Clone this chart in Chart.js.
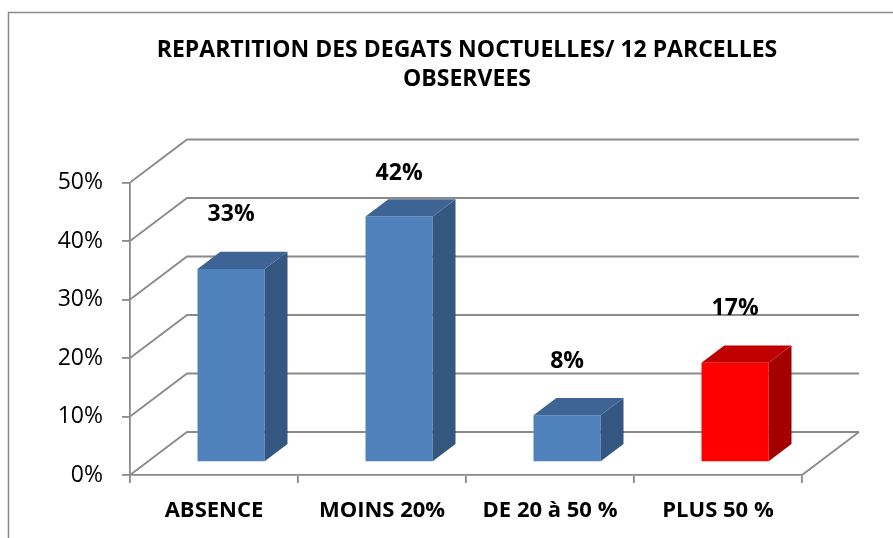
<!DOCTYPE html>
<html>
<head>
<meta charset="utf-8">
<script src="https://cdn.jsdelivr.net/npm/chart.js@4.4.1/dist/chart.umd.min.js"></script>
<style>
  body { margin: 0; background: #fff; }
  #wrap { width: 893px; height: 538px; }
</style>
</head>
<body>
<div id="wrap"><canvas id="chart"></canvas></div>
<script>
const categories = ["ABSENCE", "MOINS 20%", "DE 20 à 50 %", "PLUS 50 %"];
const values = [33, 42, 8, 17];
const yTicks = [0, 10, 20, 30, 40, 50];
const titleLines = ["REPARTITION DES DEGATS NOCTUELLES/ 12 PARCELLES", "OBSERVEES"];

const frontColors = ["#4f81bd", "#4f81bd", "#4f81bd", "#ff0000"];
const sideColors = ["#34577f", "#34577f", "#34577f", "#a50000"];
const topColors = ["#3d6494", "#3d6494", "#3d6494", "#c00000"];

const gridColor = "#8a8a8a";
const DX = 57, DY = -43; // depth of the 3d box
const FRONT = 0.3, DEPTH = 0.4; // bar position inside the depth

const depth = {
  id: "depth",
  beforeDraw(chart) {
    const ctx = chart.ctx;
    ctx.save();
    ctx.strokeStyle = gridColor;
    ctx.lineWidth = 1.5;
    ctx.strokeRect(8.5, 12.5, 1000, 1000);
    ctx.restore();
  },
  beforeDatasetsDraw(chart) {
    const ctx = chart.ctx;
    const ca = chart.chartArea;
    const ys = chart.scales.y;
    ctx.save();
    ctx.strokeStyle = gridColor;
    ctx.lineWidth = 1.8;
    ctx.beginPath();
    yTicks.forEach((v) => {
      const y = ys.getPixelForValue(v);
      ctx.moveTo(ca.left, y);
      ctx.lineTo(ca.left + DX, y + DY);
      ctx.lineTo(ca.right + DX, y + DY);
    });
    ctx.moveTo(ca.right, ca.bottom);
    ctx.lineTo(ca.right + DX, ca.bottom + DY);
    ctx.stroke();
    ctx.restore();
    ctx.save();
    ctx.translate(FRONT * DX, FRONT * DY);
  },
  afterDatasetsDraw(chart) {
    const ctx = chart.ctx;
    const ca = chart.chartArea;
    const bdx = DEPTH * DX, bdy = DEPTH * DY;
    const meta = chart.getDatasetMeta(0);
    meta.data.forEach((bar, i) => {
      const l = bar.x - bar.width / 2, r = bar.x + bar.width / 2;
      const t = bar.y, b = bar.base;
      ctx.fillStyle = sideColors[i];
      ctx.beginPath();
      ctx.moveTo(r, t);
      ctx.lineTo(r + bdx, t + bdy);
      ctx.lineTo(r + bdx, b + bdy);
      ctx.lineTo(r, b);
      ctx.closePath();
      ctx.fill();
      ctx.fillStyle = topColors[i];
      ctx.beginPath();
      ctx.moveTo(l, t);
      ctx.lineTo(l + bdx, t + bdy);
      ctx.lineTo(r + bdx, t + bdy);
      ctx.lineTo(r, t);
      ctx.closePath();
      ctx.fill();
    });
    ctx.restore();

    // value labels, kept inside the plot
    ctx.save();
    ctx.fillStyle = "#000";
    ctx.font = "bold 23px 'Open Sans'";
    ctx.textAlign = "center";
    ctx.textBaseline = "middle";
    meta.data.forEach((bar, i) => {
      const y = Math.max(bar.y + FRONT * DY + bdy - 37, ca.top - 9);
      ctx.fillText(values[i] + "%", bar.x + FRONT * DX, y);
    });
    ctx.restore();
  },
};

new Chart(document.getElementById("chart"), {
  type: "bar",
  data: {
    labels: categories,
    datasets: [
      {
        data: values,
        backgroundColor: frontColors,
        borderWidth: 0,
        barPercentage: 0.4,
        categoryPercentage: 1,
        clip: false,
      },
    ],
  },
  options: {
    responsive: true,
    maintainAspectRatio: false,
    animation: false,
    layout: { padding: { left: 41, right: 0, top: 0, bottom: 0 } },
    plugins: {
      legend: { display: false },
      tooltip: { enabled: false },
      title: {
        display: true,
        text: titleLines,
        color: "#000",
        font: { family: "'Open Sans'", size: 23, weight: "bold", lineHeight: 1.25 },
        padding: { top: 36, bottom: 89 },
      },
    },
    scales: {
      x: {
        grid: { drawOnChartArea: false, tickLength: 8, color: gridColor, lineWidth: 1.8 },
        border: { color: gridColor, width: 1.8 },
        ticks: { color: "#000", padding: 15, font: { family: "'Open Sans'", size: 22, weight: "bold" } },
        afterFit: (s) => { s.height = 63; },
      },
      y: {
        min: 0,
        max: 50,
        ticks: {
          stepSize: 10,
          color: "#000",
          padding: 19,
          font: { family: "'Open Sans'", size: 23 },
          callback: (v) => v + "%",
        },
        grid: { drawOnChartArea: false, tickLength: 8, color: gridColor, lineWidth: 1.8 },
        border: { color: gridColor, width: 1.8 },
        afterFit: (s) => { s.width = 89; },
      },
      y2: {
        position: "right",
        ticks: { display: false },
        grid: { display: false },
        border: { display: false },
        afterFit: (s) => { s.width = 91; },
      },
    },
  },
  plugins: [depth],
});
</script>
</body>
</html>
